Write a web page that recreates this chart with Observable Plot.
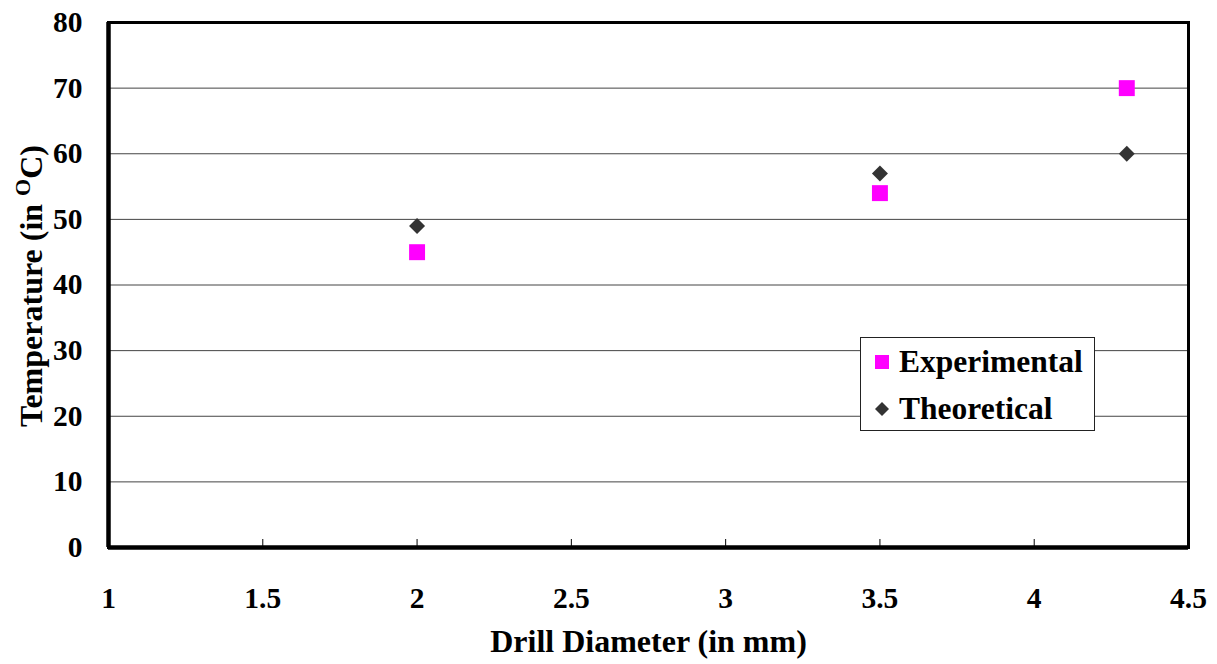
<!DOCTYPE html>
<html>
<head>
<meta charset="utf-8">
<script src="https://cdn.jsdelivr.net/npm/d3@7"></script>
<script src="https://cdn.jsdelivr.net/npm/@observablehq/plot@0.6"></script>
<style>
  html, body { margin: 0; padding: 0; background: #fff; }
  #chart { position: relative; width: 1217px; height: 664px; }
  #legend { position: absolute; left: 860px; top: 337px; width: 233px; height: 92px;
    border: 1px solid #222; background: #fff; font-family: "Liberation Serif", "Times New Roman", serif;
    font-weight: bold; font-size: 31.5px; color: #000; }
  .item { position: absolute; left: 13px; display: flex; align-items: center; }
  .item svg { margin-right: 9px; }
</style>
</head>
<body>
<div id="chart"></div>
<script>
const diameters = [2, 3.5, 4.3];
const experimental = [45, 54, 70];
const theoretical = [49, 57, 60];
const xTicks = [1, 1.5, 2, 2.5, 3, 3.5, 4, 4.5];
const yTicks = [0, 10, 20, 30, 40, 50, 60, 70, 80];
const gridLevels = [10, 20, 30, 40, 50, 60, 70];
const seriesNames = ["Experimental", "Theoretical"];
const seriesColors = ["#ff00ff", "#333333"];

const expData = diameters.map((d, i) => ({x: d, y: experimental[i]}));
const theoData = diameters.map((d, i) => ({x: d, y: theoretical[i]}));

const font = "Liberation Serif, Times New Roman, serif";

const plot = Plot.plot({
  width: 1217,
  height: 664,
  marginLeft: 108,
  marginRight: 29,
  marginTop: 22,
  marginBottom: 117,
  style: {fontFamily: font, fontWeight: "bold", fontSize: "29px", color: "#000", background: "#fff"},
  x: {domain: [1, 4.5]},
  y: {domain: [0, 80]},
  marks: [
    Plot.ruleY(gridLevels, {stroke: "#444", strokeWidth: 1}),
    Plot.axisX(xTicks, {tickSize: 0, tickPadding: 40, label: null, fontSize: 29.5, fontWeight: "bold", tickFormat: d => String(d)}),
    Plot.axisX(xTicks, {tickSize: -8, tickFormat: () => "", label: null, stroke: "#000"}),
    Plot.axisY(yTicks, {tickSize: 0, tickPadding: 26, label: null, fontSize: 29.5, fontWeight: "bold"}),
    Plot.frame({stroke: "#000", strokeWidth: 3}),
    Plot.ruleX([1], {stroke: "#000", strokeWidth: 4.5}),
    Plot.ruleY([0], {stroke: "#000", strokeWidth: 4.5}),
    Plot.dot(theoData, {x: "x", y: "y", symbol: "diamond2", r: 7.2, fill: seriesColors[1], stroke: null}),
    Plot.dot(expData, {x: "x", y: "y", symbol: "square", r: 9, fill: seriesColors[0], stroke: null}),
    Plot.text(["Drill Diameter (in mm)"], {frameAnchor: "bottom", dy: 104, fontSize: 32, fontWeight: "bold", fill: "#000"})
  ]
});

const svg = d3.select(plot);
const yt = svg.append("text")
  .attr("transform", "translate(42,286) rotate(-90)")
  .attr("text-anchor", "middle")
  .attr("font-family", font)
  .attr("font-weight", "bold")
  .attr("font-size", 32)
  .attr("fill", "#000");
yt.append("tspan").text("Temperature (in ");
yt.append("tspan").attr("dy", -12).attr("font-size", 22).text("O");
yt.append("tspan").attr("dy", 12).text("C)");

const chart = document.getElementById("chart");
chart.appendChild(plot);

const legend = document.createElement("div");
legend.id = "legend";
const symbols = [
  '<svg width="16" height="16"><rect x="1" y="1" width="14" height="14" fill="' + seriesColors[0] + '"/></svg>',
  '<svg width="16" height="16"><path d="M8 1 L15 8 L8 15 L1 8 Z" fill="' + seriesColors[1] + '"/></svg>'
];
seriesNames.forEach((name, i) => {
  const it = document.createElement("div");
  it.className = "item";
  it.style.top = (i === 0 ? 6 : 53) + "px";
  it.innerHTML = symbols[i] + "<span>" + name + "</span>";
  legend.appendChild(it);
});
chart.appendChild(legend);
</script>
</body>
</html>
